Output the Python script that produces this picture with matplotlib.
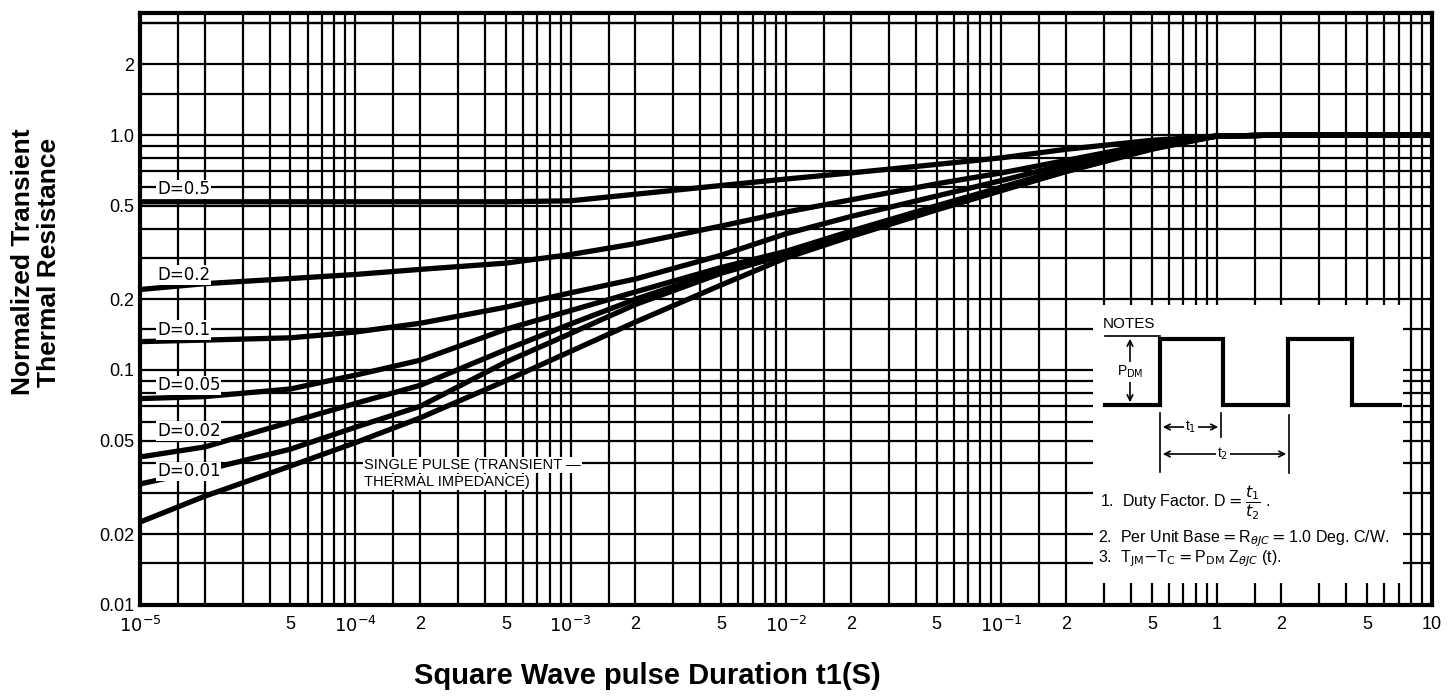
import numpy as np
import matplotlib
matplotlib.use("Agg")
import matplotlib.pyplot as plt
from matplotlib.ticker import FixedLocator, FixedFormatter, NullFormatter

plt.rcParams['font.family'] = ['Liberation Sans', 'DejaVu Sans']

# pulse duration t1 (s)
t1 = [1e-5, 2e-5, 5e-5, 1e-4, 2e-4, 5e-4, 1e-3, 2e-3, 5e-3, 1e-2,
      2e-2, 5e-2, 0.1, 0.2, 0.5, 1.0, 2.0, 5.0, 10.0]

# normalized transient thermal resistance, one list per duty factor
z_d050 = [0.52, 0.52, 0.52, 0.52, 0.52, 0.52, 0.525, 0.56, 0.61, 0.65,
          0.69, 0.75, 0.80, 0.87, 0.95, 0.99, 1.0, 1.0, 1.0]
z_d020 = [0.22, 0.233, 0.245, 0.255, 0.268, 0.285, 0.31, 0.345, 0.41, 0.47,
          0.53, 0.62, 0.69, 0.78, 0.92, 0.99, 1.0, 1.0, 1.0]
z_d010 = [0.132, 0.134, 0.137, 0.145, 0.158, 0.185, 0.213, 0.244, 0.308, 0.38,
          0.45, 0.55, 0.64, 0.75, 0.91, 0.99, 1.0, 1.0, 1.0]
z_d005 = [0.0755, 0.077, 0.083, 0.095, 0.11, 0.149, 0.179, 0.215, 0.273, 0.32,
          0.39, 0.50, 0.60, 0.72, 0.90, 0.99, 1.0, 1.0, 1.0]
z_d002 = [0.0426, 0.047, 0.06, 0.072, 0.086, 0.122, 0.157, 0.20, 0.265, 0.315,
          0.38, 0.49, 0.59, 0.71, 0.89, 0.99, 1.0, 1.0, 1.0]
z_d001 = [0.0327, 0.0375, 0.046, 0.057, 0.07, 0.108, 0.143, 0.19, 0.258, 0.31,
          0.375, 0.485, 0.585, 0.70, 0.88, 0.99, 1.0, 1.0, 1.0]
z_single = [0.0225, 0.029, 0.039, 0.049, 0.0625, 0.09, 0.12, 0.16, 0.23, 0.30,
            0.37, 0.48, 0.58, 0.70, 0.87, 0.99, 1.0, 1.0, 1.0]

curves = [z_d050, z_d020, z_d010, z_d005, z_d002, z_d001, z_single]

# curve labels and where they sit
d_labels = ['D=0.5', 'D=0.2', 'D=0.1', 'D=0.05', 'D=0.02', 'D=0.01']
d_label_y = [0.587, 0.254, 0.148, 0.086, 0.055, 0.037]

x_tick_pos = [1e-5, 5e-5, 1e-4, 2e-4, 5e-4, 1e-3, 2e-3, 5e-3, 1e-2, 2e-2,
              5e-2, 0.1, 0.2, 0.5, 1.0, 2.0, 5.0, 10.0]
x_tick_lbl = [r'$10^{-5}$', '5', r'$10^{-4}$', '2', '5', r'$10^{-3}$', '2', '5',
              r'$10^{-2}$', '2', '5', r'$10^{-1}$', '2', '5', '1', '2', '5', '10']
y_tick_pos = [0.01, 0.02, 0.05, 0.1, 0.2, 0.5, 1.0, 2.0]
y_tick_lbl = ['0.01', '0.02', '0.05', '0.1', '0.2', '0.5', '1.0', '2']

# notes sketch (box pixel units, y down)
wave_x = [12, 67, 67, 130, 130, 195, 195, 259, 259, 307]
wave_y = [100, 100, 34, 34, 100, 100, 34, 34, 100, 100]

fig = plt.figure(figsize=(14.55, 7.0), dpi=100)
ax = fig.add_axes([0.0962, 0.136, 0.888, 0.845])
ax.set_xscale('log')
ax.set_yscale('log')
ax.set_xlim(1e-5, 10)
ax.set_ylim(0.01, 3.3)

ax.xaxis.set_major_locator(FixedLocator(x_tick_pos))
ax.xaxis.set_major_formatter(FixedFormatter(x_tick_lbl))
ax.xaxis.set_minor_locator(FixedLocator(
    [m * 10.0 ** e for e in range(-5, 1) for m in (1.5, 3, 4, 6, 7, 8, 9)] +
    [2e-5]))
ax.xaxis.set_minor_formatter(NullFormatter())
ax.yaxis.set_major_locator(FixedLocator(y_tick_pos))
ax.yaxis.set_major_formatter(FixedFormatter(y_tick_lbl))
ax.yaxis.set_minor_locator(FixedLocator(
    [m * 10.0 ** e for e in range(-2, 1) for m in (1.5, 3, 4, 6, 7, 8, 9)] + [3.0]))
ax.yaxis.set_minor_formatter(NullFormatter())
ax.tick_params(which='both', length=0, labelsize=13, colors='black')
ax.tick_params(axis='x', pad=8)
ax.tick_params(axis='y', pad=4)

ax.grid(True, which='both', color='black', linewidth=1.6)
ax.set_axisbelow(True)
for s in ax.spines.values():
    s.set_linewidth(3)

for z in curves:
    ax.plot(t1, z, color='black', linewidth=3.8, solid_capstyle='butt', zorder=3)

for lbl, yv in zip(d_labels, d_label_y):
    ax.text(1.2e-5, yv, lbl, fontsize=12, family='DejaVu Sans', va='center',
            ha='left', zorder=4,
            bbox=dict(facecolor='white', edgecolor='none', pad=0.5))

ax.text(1.1e-4, 0.0394, 'SINGLE PULSE (TRANSIENT \u2014', fontsize=10.5,
        va='center', ha='left', zorder=4,
        bbox=dict(facecolor='white', edgecolor='none', pad=0.5))
ax.text(1.1e-4, 0.0333, 'THERMAL IMPEDANCE)', fontsize=10.5,
        va='center', ha='left', zorder=4,
        bbox=dict(facecolor='white', edgecolor='none', pad=0.5))

fig.text(647 / 1455, 1 - 676 / 700, 'Square Wave pulse Duration t1(S)',
         fontsize=21, fontweight='bold', ha='center', va='center')
fig.text(36 / 1455, 1 - 262 / 700, 'Normalized Transient\nThermal Resistance',
         fontsize=19, fontweight='bold', ha='center', va='center',
         rotation=90, multialignment='center', linespacing=1.1)

# notes box
nb = fig.add_axes([1093 / 1455, 1 - 583 / 700, 310 / 1455, 278 / 700], zorder=5)
nb.set_xlim(0, 310)
nb.set_ylim(278, 0)
nb.set_facecolor('white')
nb.axis('off')
nb.add_patch(plt.Rectangle((0, 0), 310, 278, facecolor='white', edgecolor='none'))
nb.text(10, 19, 'NOTES', fontsize=11, va='center', ha='left')
nb.plot([12, 67], [31, 31], color='black', lw=1.2)
nb.plot(wave_x, wave_y, color='black', lw=3, solid_joinstyle='miter')
nb.annotate('', xy=(37, 31), xytext=(37, 67),
            arrowprops=dict(arrowstyle='->', lw=1.2, color='black'))
nb.annotate('', xy=(37, 100), xytext=(37, 67),
            arrowprops=dict(arrowstyle='->', lw=1.2, color='black'))
nb.text(37, 67, r'P$_{\rm DM}$', fontsize=10, va='center', ha='center',
        bbox=dict(facecolor='white', edgecolor='none', pad=1))
nb.plot([67, 67], [108, 167], color='black', lw=1.2)
nb.plot([128, 128], [108, 132], color='black', lw=1.2)
nb.plot([196, 196], [110, 168], color='black', lw=1.2)
nb.annotate('', xy=(67, 122), xytext=(128, 122),
            arrowprops=dict(arrowstyle='<->', lw=1.2, color='black'))
nb.text(98, 122, r't$_1$', fontsize=10, va='center', ha='center',
        bbox=dict(facecolor='white', edgecolor='none', pad=1))
nb.annotate('', xy=(67, 149), xytext=(196, 149),
            arrowprops=dict(arrowstyle='<->', lw=1.2, color='black'))
nb.text(130, 149, r't$_2$', fontsize=10, va='center', ha='center',
        bbox=dict(facecolor='white', edgecolor='none', pad=1))
nb.text(7, 198, r'1.  Duty Factor. D$=\dfrac{t_1}{t_2}$ .', fontsize=11.5,
        va='center', ha='left')
nb.text(5, 234, r'2.  Per Unit Base$=$R$_{\theta JC}$$=$1.0 Deg. C/W.',
        fontsize=11.5, va='center', ha='left')
nb.text(5, 254, r'3.  T$_{\rm JM}$$-$T$_{\rm C}$$=$P$_{\rm DM}$ Z$_{\theta JC}$ (t).',
        fontsize=11.5, va='center', ha='left')

fig.savefig('out.png', dpi=100, facecolor='white')
